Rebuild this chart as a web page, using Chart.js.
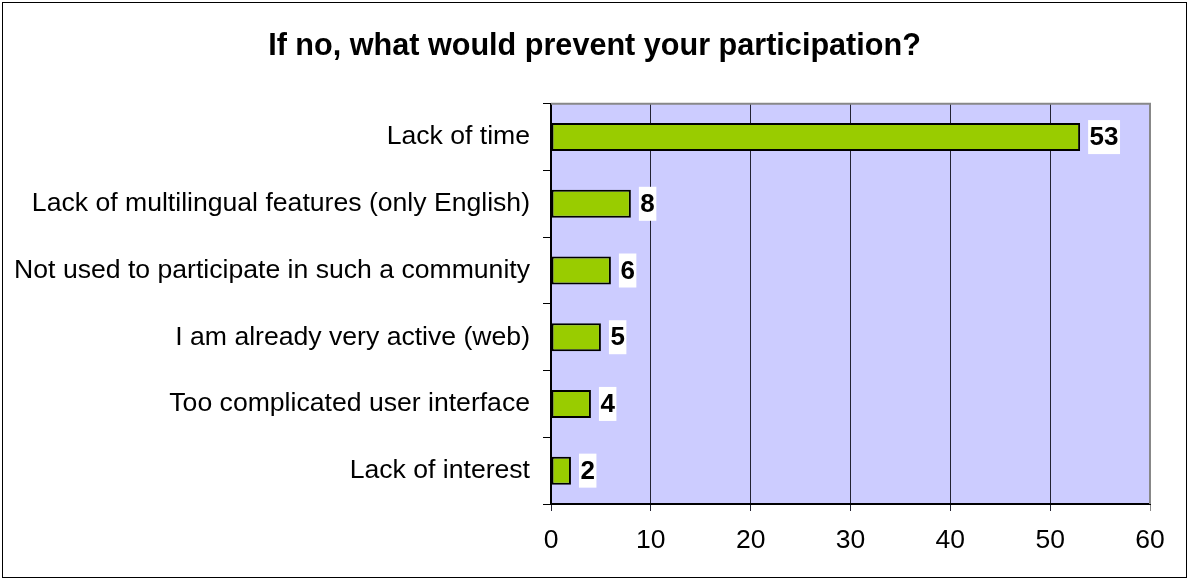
<!DOCTYPE html>
<html>
<head>
<meta charset="utf-8">
<script src="https://cdn.jsdelivr.net/npm/chart.js@4/dist/chart.umd.min.js"></script>
<style>
  html, body { margin: 0; padding: 0; background: #fff; }
  canvas { display: block; }
</style>
</head>
<body>
<canvas id="c" width="1189" height="580"></canvas>
<script>
const titleText = 'If no, what would prevent your participation?';
const categories = [
  'Lack of time',
  'Lack of multilingual features (only English)',
  'Not used to participate in such a community',
  'I am already very active (web)',
  'Too complicated user interface',
  'Lack of interest'
];
const counts = [53, 8, 6, 5, 4, 2];
const axisMin = 0;
const axisMax = 60;
const axisStep = 10;

const FONT = "'Liberation Sans', Arial, sans-serif";

const frame = {
  id: 'frame',
  beforeDraw(chart) {
    const ctx = chart.ctx;
    const a = chart.chartArea;
    ctx.save();
    ctx.fillStyle = '#ffffff';
    ctx.fillRect(0, 0, chart.width, chart.height);
    ctx.fillStyle = '#CCCCFF';
    ctx.fillRect(a.left, a.top, a.right - a.left, a.bottom - a.top);
    ctx.restore();
  },
  beforeDatasetsDraw(chart) {
    const ctx = chart.ctx;
    const a = chart.chartArea;
    ctx.save();
    ctx.strokeStyle = '#888888';
    ctx.lineWidth = 2;
    ctx.beginPath();
    ctx.moveTo(a.left, a.top);
    ctx.lineTo(a.right, a.top);
    ctx.lineTo(a.right, a.bottom);
    ctx.stroke();
    ctx.restore();
  },
  afterDatasetsDraw(chart) {
    const ctx = chart.ctx;
    const meta = chart.getDatasetMeta(0);
    ctx.save();
    ctx.font = 'bold 26px ' + FONT;
    ctx.textBaseline = 'middle';
    ctx.textAlign = 'left';
    meta.data.forEach((el, i) => {
      const txt = String(chart.data.datasets[0].data[i]);
      const w = ctx.measureText(txt).width;
      const x = el.x + 8;
      ctx.fillStyle = '#ffffff';
      ctx.fillRect(x, el.y - 17, w + 3, 34);
      ctx.fillStyle = '#000000';
      ctx.fillText(txt, x + 1.5, el.y + 1);
    });
    ctx.restore();
  },
  afterDraw(chart) {
    const ctx = chart.ctx;
    ctx.save();
    ctx.strokeStyle = '#000';
    ctx.lineWidth = 1;
    ctx.strokeRect(2.5, 2.5, chart.width - 5, chart.height - 5);
    ctx.restore();
  }
};

new Chart(document.getElementById('c'), {
  type: 'bar',
  data: {
    labels: categories,
    datasets: [{
      data: counts,
      backgroundColor: '#99CC00',
      borderColor: '#000000',
      borderWidth: 2,
      borderSkipped: false,
      barPercentage: 0.42,
      categoryPercentage: 1
    }]
  },
  options: {
    indexAxis: 'y',
    responsive: false,
    devicePixelRatio: 1,
    animation: false,
    layout: { padding: 0 },
    plugins: {
      legend: { display: false },
      tooltip: { enabled: false },
      title: {
        display: true,
        text: titleText,
        color: '#000',
        font: { family: FONT, size: 30.6, weight: 'bold' },
        padding: { top: 28, bottom: 39 }
      }
    },
    scales: {
      x: {
        min: axisMin,
        max: axisMax,
        afterFit(scale) { scale.height = 76; },
        ticks: {
          stepSize: axisStep,
          color: '#000',
          font: { family: FONT, size: 26.5 },
          padding: 14
        },
        grid: {
          color: (c) => (c.tick && c.tick.value === axisMax) ? '#888888' : '#222233',
          lineWidth: 1,
          tickLength: 7,
          drawTicks: true
        },
        border: { display: true, color: '#000', width: 2 }
      },
      y: {
        afterFit(scale) { scale.width = 551; },
        ticks: {
          color: '#000',
          font: { family: FONT, size: 26.6 },
          padding: 13
        },
        grid: {
          drawOnChartArea: false,
          drawTicks: true,
          tickLength: 8,
          color: '#000'
        },
        border: { display: true, color: '#000', width: 2 }
      },
      spacer: {
        type: 'linear',
        position: 'right',
        display: true,
        afterFit(scale) { scale.width = 39; },
        ticks: { display: false },
        grid: { display: false, drawTicks: false },
        border: { display: false }
      }
    }
  },
  plugins: [frame]
});
</script>
</body>
</html>
